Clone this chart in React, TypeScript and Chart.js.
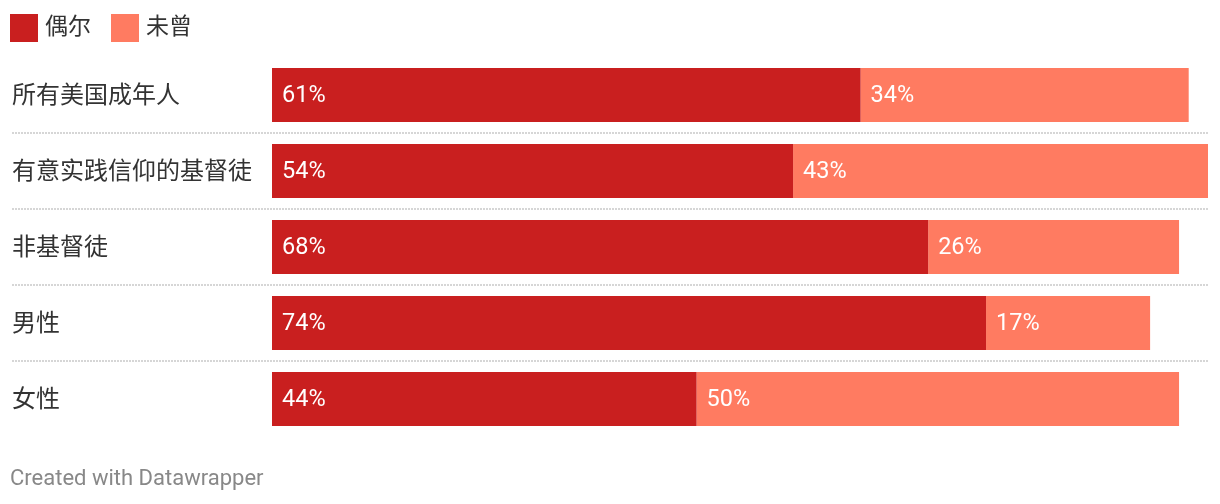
import React, { useEffect, useRef } from "react";
import { Chart, registerables } from "chart.js";

Chart.register(...registerables);

const categories = ["所有美国成年人", "有意实践信仰的基督徒", "非基督徒", "男性", "女性"];
const seriesNames = ["偶尔", "未曾"];
const occasionally = [61, 54, 68, 74, 44];
const never = [34, 43, 26, 17, 50];
const colors = ["#c91f1f", "#ff7b61"];
const footerText = "Created with Datawrapper";

const CJK = "Roboto, 'Noto Sans CJK SC', sans-serif";

const overlay = {
  id: "overlay",
  afterDatasetsDraw(chart: any) {
    const { ctx, chartArea } = chart;
    const y = chart.scales.y;
    ctx.save();
    // separators
    ctx.strokeStyle = "#d6d6d6";
    ctx.lineWidth = 2;
    ctx.setLineDash([2, 1]);
    for (let i = 0; i < categories.length - 1; i++) {
      const yy = (y.getPixelForValue(i) + y.getPixelForValue(i + 1)) / 2;
      ctx.beginPath();
      ctx.moveTo(12, yy);
      ctx.lineTo(chartArea.right, yy);
      ctx.stroke();
    }
    ctx.setLineDash([]);
    ctx.textBaseline = "middle";
    ctx.textAlign = "left";
    // category labels
    ctx.font = "24px " + CJK;
    ctx.fillStyle = "#333333";
    categories.forEach((c, i) => {
      ctx.fillText(c, 12, y.getPixelForValue(i) + 2);
    });
    // value labels
    ctx.fillStyle = "#ffffff";
    ctx.font = "23.5px Roboto, sans-serif";
    chart.data.datasets.forEach((ds: any, di: number) => {
      const meta = chart.getDatasetMeta(di);
      meta.data.forEach((bar: any, i: number) => {
        const left = Math.min(bar.x, bar.base);
        ctx.fillText(ds.data[i] + "%", left + 10, bar.y + 1);
      });
    });
    // legend
    ctx.font = "23px " + CJK;
    let lx = 10;
    seriesNames.forEach((n, i) => {
      ctx.fillStyle = colors[i];
      ctx.fillRect(lx, 14, 28, 28);
      ctx.fillStyle = "#333333";
      ctx.fillText(n, lx + 35, 28);
      lx += 35 + ctx.measureText(n).width + 20;
    });
    // footer
    ctx.font = "22px Roboto, sans-serif";
    ctx.fillStyle = "#888888";
    ctx.fillText(footerText, 10, 479);
    ctx.restore();
  },
};

export default function App() {
  const ref = useRef<HTMLCanvasElement>(null);
  useEffect(() => {
    const chart = new Chart(ref.current!, {
      type: "bar",
      data: {
        labels: categories,
        datasets: [
          { label: seriesNames[0], data: occasionally, backgroundColor: colors[0] },
          { label: seriesNames[1], data: never, backgroundColor: colors[1] },
        ],
      },
      options: {
        indexAxis: "y",
        animation: false,
        responsive: false,
        maintainAspectRatio: false,
        datasets: { bar: { categoryPercentage: 1, barPercentage: 54 / 76 } },
        layout: { padding: { left: 272, right: 12, top: 57, bottom: 67 } },
        plugins: { legend: { display: false }, tooltip: { enabled: false } },
        scales: {
          x: { stacked: true, min: 0, max: 97, display: false },
          y: { stacked: true, display: false },
        },
      },
      plugins: [overlay],
    });
    return () => chart.destroy();
  }, []);
  return (
    <div style={{ position: "fixed", left: 0, top: 0, width: 1220, height: 504, background: "#fff" }}>
      <canvas ref={ref} width={1220} height={504} style={{ display: "block" }} />
    </div>
  );
}
